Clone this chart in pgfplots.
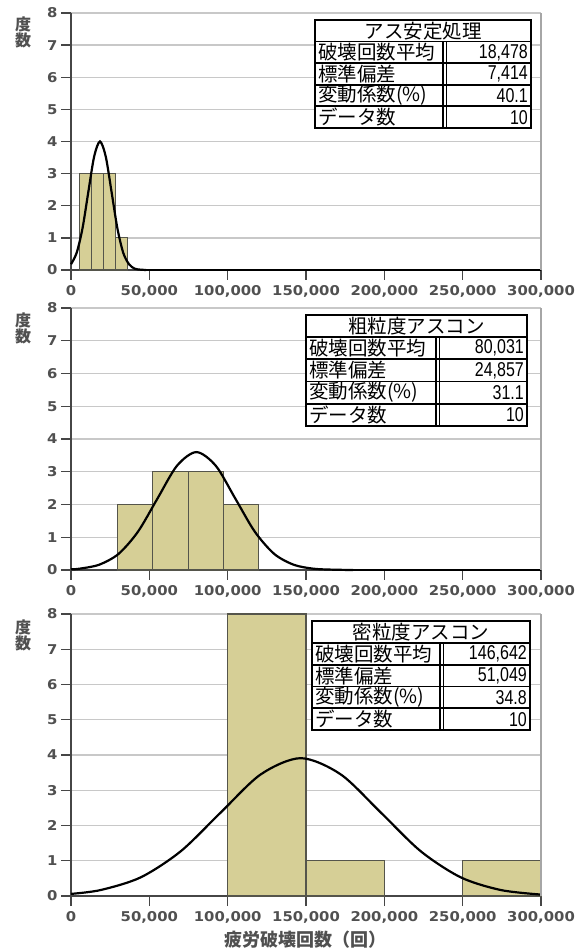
\documentclass[border=0pt]{standalone}
\usepackage{pgfplots}
\pgfplotsset{compat=1.18}
\usepackage{fontspec}
\setmainfont{DejaVu Sans}
\newfontfamily\jp{Noto Sans CJK JP}
\newfontfamily\tickf{DejaVu Sans}[FakeStretch=1.1]
\newfontfamily\nar{Liberation Sans}[FakeStretch=0.8]
\definecolor{barcol}{RGB}{214,207,150}
\definecolor{bardraw}{RGB}{85,85,75}
\definecolor{gridc}{RGB}{200,200,200}
\definecolor{labc}{RGB}{80,80,80}
\definecolor{axc}{RGB}{70,70,70}
\pgfplotsset{
  hist/.style={
    scale only axis, width=470pt, clip=false,
    xmin=0, xmax=300000, ymin=0, ymax=8,
    xtick={0,50000,100000,150000,200000,250000,300000},
    ytick={0,1,2,3,4,5,6,7,8},
    scaled x ticks=false,
    /pgf/number format/fixed,
    /pgf/number format/1000 sep={,},
    /pgf/number format/assume math mode=true,
    axis x line=bottom, axis y line=left,
    axis line style={-, draw=axc, line width=1.8pt},
    tick align=outside, major tick length=10pt,
    tick style={draw=axc, line width=1.4pt},
    ymajorgrids, grid style={draw=gridc, line width=1.4pt},
    tick label style={font=\tickf\bfseries\fontsize{13.5}{14}\selectfont, text=labc},
    xticklabel shift=2pt,
  },
  curve/.style={black, line width=2.2pt, smooth},
  tail/.style={black, line width=2.2pt},
  bars/.style={ybar interval, fill=barcol, draw=bardraw, line width=1.1pt},
}
\newcommand{\datatable}[9]{%
  \begin{scope}[x=1pt, y=-1pt, shift={(0pt,952pt)}]
    \fill[white] (#1,#4) rectangle (#2,{#4+5*#5});
    \draw[line width=1.8pt] (#1,{#4+1*#5}) -- (#2,{#4+1*#5});
    \draw[line width=1.8pt] (#1,{#4+2*#5}) -- (#2,{#4+2*#5});
    \draw[line width=1.8pt] (#1,{#4+3*#5}) -- (#2,{#4+3*#5});
    \draw[line width=1.8pt] (#1,{#4+4*#5}) -- (#2,{#4+4*#5});
    \draw[line width=1.2pt] ({#3-1.6},{#4+#5}) -- ({#3-1.6},{#4+5*#5});
    \draw[line width=1.2pt] ({#3+1.6},{#4+#5}) -- ({#3+1.6},{#4+5*#5});
    \draw[line width=2pt] (#1,#4) rectangle (#2,{#4+5*#5});
    \node[inner sep=0pt, font=\jp\fontsize{19.5}{20}\selectfont] at ({(#1+#2)/2},{#4+0.5*#5}) {#6};
    \node[inner sep=0pt, anchor=west, font=\jp\fontsize{19.5}{20}\selectfont] at ({#1+3},{#4+1.5*#5}) {破壊回数平均};
    \node[inner sep=0pt, anchor=west, font=\jp\fontsize{19.5}{20}\selectfont] at ({#1+3},{#4+2.5*#5}) {標準偏差};
    \node[inner sep=0pt, anchor=west, font=\jp\fontsize{19.5}{20}\selectfont] at ({#1+3},{#4+3.5*#5}) {変動係数(\%)};
    \node[inner sep=0pt, anchor=west, font=\jp\fontsize{19.5}{20}\selectfont] at ({#1+3},{#4+4.5*#5}) {データ数};
    \node[inner sep=0pt, anchor=east, font=\nar\fontsize{20}{20}\selectfont] at ({#2-3},{#4+1.5*#5}) {#7};
    \node[inner sep=0pt, anchor=east, font=\nar\fontsize{20}{20}\selectfont] at ({#2-3},{#4+2.5*#5}) {#8};
    \node[inner sep=0pt, anchor=east, font=\nar\fontsize{20}{20}\selectfont] at ({#2-3},{#4+3.5*#5}) {#9};
    \node[inner sep=0pt, anchor=east, font=\nar\fontsize{20}{20}\selectfont] at ({#2-3},{#4+4.5*#5}) {10};
  \end{scope}}
\newcommand{\ylab}[1]{%
  \begin{scope}[x=1pt, y=-1pt, shift={(0pt,952pt)}]
    \node[inner sep=0pt, text=labc, font=\jp\bfseries\fontsize{16}{16}\selectfont] at (23,{#1-8}) {度};
    \node[inner sep=0pt, text=labc, font=\jp\bfseries\fontsize{16}{16}\selectfont] at (23,{#1+8}) {数};
  \end{scope}}
\begin{document}
\begin{tikzpicture}
\useasboundingbox (0pt,0pt) rectangle (585pt,952pt);
% ---------- top panel ----------
\begin{axis}[hist, at={(71pt,682pt)}, anchor=south west, height=257pt]
\addplot[bars] coordinates {(5700,3) (13300,3) (20900,3) (28500,1) (36100,1)};
\addplot[curve] coordinates {(0,0.18) (3650,0.54) (7357,1.30) (11064,2.43) (14771,3.53) (18478,4.0) (22185,3.53) (25892,2.43) (29599,1.30) (33306,0.54) (37013,0.18) (40720,0.04) (44427,0.01) (48000,0)};
\addplot[tail] coordinates {(48000,0) (300000,0)};
\draw[gray!70, line width=1.4pt] (rel axis cs:1,0) -- (rel axis cs:1,1);
\end{axis}
% ---------- middle panel ----------
\begin{axis}[hist, at={(71pt,382pt)}, anchor=south west, height=262pt]
\addplot[bars] coordinates {(29800,2) (52300,3) (74800,3) (97300,2) (119800,2)};
\addplot[curve] coordinates {(0,0.02) (5460,0.04) (17889,0.16) (30317,0.49) (42745,1.17) (55174,2.18) (67602,3.18) (80031,3.6) (92460,3.18) (104888,2.18) (117317,1.17) (129745,0.49) (142174,0.16) (154602,0.04) (167031,0.01) (180000,0)};
\addplot[tail] coordinates {(180000,0) (300000,0)};
\draw[gray!70, line width=1.4pt] (rel axis cs:1,0) -- (rel axis cs:1,1);
\end{axis}
% ---------- bottom panel ----------
\begin{axis}[hist, at={(71pt,56pt)}, anchor=south west, height=282pt]
\addplot[bars] coordinates {(100000,8) (150000,1) (200000,1)};
\addplot[bars] coordinates {(250000,1) (300000,1)};
\addplot[curve] coordinates {(0,0.06) (19020,0.17) (44544,0.53) (70068,1.27) (95593,2.37) (121118,3.45) (146642,3.91) (172167,3.45) (197691,2.37) (223216,1.27) (248740,0.53) (274265,0.17) (300000,0.04)};
\draw[gray!70, line width=1.4pt] (rel axis cs:1,0) -- (rel axis cs:1,1);
\end{axis}
% ---------- tables and labels ----------
\datatable{315}{531}{444.5}{20}{21.6}{アス安定処理}{18,478}{7,414}{40.1}
\datatable{306}{527}{437.5}{315}{22.2}{粗粒度アスコン}{80,031}{24,857}{31.1}
\datatable{312}{530}{441.5}{621.5}{21.7}{密粒度アスコン}{146,642}{51,049}{34.8}
\ylab{32.5}
\ylab{328.5}
\ylab{635.5}
\begin{scope}[x=1pt, y=-1pt, shift={(0pt,952pt)}]
  \node[inner sep=0pt, text=labc, font=\jp\bfseries\fontsize{18}{18}\selectfont] at (305,940) {疲労破壊回数（回）};
\end{scope}
\end{tikzpicture}
\end{document}
